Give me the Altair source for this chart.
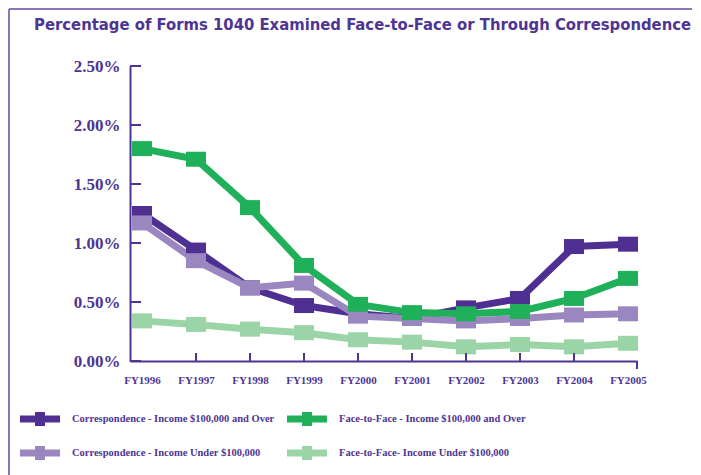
import altair as alt
import pandas as pd

years = [1996, 1997, 1998, 1999, 2000, 2001, 2002, 2003, 2004, 2005]
series_names = [
    "Correspondence - Income $100,000 and Over",
    "Correspondence - Income Under $100,000",
    "Face-to-Face - Income $100,000 and Over",
    "Face-to-Face- Income Under $100,000",
]
corr_over = [1.25, 0.94, 0.62, 0.47, 0.40, 0.36, 0.45, 0.53, 0.97, 0.99]
corr_under = [1.17, 0.85, 0.62, 0.66, 0.38, 0.36, 0.34, 0.36, 0.39, 0.40]
f2f_over = [1.80, 1.71, 1.30, 0.81, 0.48, 0.41, 0.40, 0.42, 0.53, 0.70]
f2f_under = [0.34, 0.31, 0.27, 0.24, 0.18, 0.16, 0.12, 0.14, 0.12, 0.15]
colors = ["#4F2F92", "#9A87C0", "#21B05A", "#9BD4A7"]
y_ticks = [0, 0.5, 1.0, 1.5, 2.0, 2.5]
x_ticks = [1997, 1998, 1999, 2000, 2001, 2002, 2003, 2004]

TEXT = "#4E3593"
W, H = 507, 295

rows = []
for name, vals in zip(series_names, [corr_over, corr_under, f2f_over, f2f_under]):
    for yr, v in zip(years, vals):
        rows.append({"year": yr, "value": v, "series": name})
df = pd.DataFrame(rows)

xscale = alt.Scale(domain=[1995.778, 2005.167], nice=False, zero=False)
yscale = alt.Scale(domain=[0, 2.5], nice=False)
cscale = alt.Scale(domain=series_names, range=colors)

rect_path = "M-1,-0.75L1,-0.75L1,0.75L-1,0.75Z"
legend_path = "M-2,-0.35L2,-0.35L2,0.35L-2,0.35Z M-0.5,-0.7L0.5,-0.7L0.5,0.7L-0.5,0.7Z"

legend = alt.Legend(title=None, orient="none", legendX=-100, legendY=343,
                    columns=2, symbolType=legend_path, symbolSize=400,
                    symbolStrokeWidth=0, labelOffset=22, columnPadding=12,
                    rowPadding=17, padding=0,
                    labelFont="Liberation Serif", labelFontWeight="bold",
                    labelFontSize=10.5, labelColor=TEXT, labelLimit=400)

base = alt.Chart(df)

lines = base.mark_line(strokeWidth=7, strokeJoin="miter").encode(
    x=alt.X("year:Q", scale=xscale,
            axis=alt.Axis(values=years, labelExpr="'FY' + datum.value", title=None,
                          tickSize=0, labelPadding=13, domainColor=TEXT, domainWidth=2,
                          labelColor=TEXT, labelFont="Liberation Serif", labelFontWeight="bold",
                          labelFontSize=11, grid=False)),
    y=alt.Y("value:Q", scale=yscale,
            axis=alt.Axis(values=y_ticks, labelExpr="format(datum.value, '.2f') + '%'", title=None,
                          tickSize=0, labelPadding=10, domainColor=TEXT, domainWidth=2,
                          labelColor=TEXT, labelFont="Liberation Serif", labelFontWeight="bold",
                          labelFontSize=17, grid=False)),
    color=alt.Color("series:N", scale=cscale, sort=series_names, legend=legend),
    order=alt.Order("year:Q"),
)

points = base.mark_point(shape=rect_path, filled=True, size=400, opacity=1).encode(
    x=alt.X("year:Q", scale=xscale),
    y=alt.Y("value:Q", scale=yscale),
    color=alt.Color("series:N", scale=cscale, sort=series_names, legend=legend),
)

ytick_df = pd.DataFrame({"v": y_ticks})
yticks = alt.Chart(ytick_df).mark_rule(color=TEXT, strokeWidth=2).encode(
    y=alt.Y("v:Q", scale=yscale), x=alt.value(0), x2=alt.value(11))

xtick_df = pd.DataFrame({"yr": x_ticks})
xticks = alt.Chart(xtick_df).mark_rule(color=TEXT, strokeWidth=2).encode(
    x=alt.X("yr:Q", scale=xscale), y=alt.value(H), y2=alt.value(H - 8))

endtick = alt.Chart(ytick_df).mark_rule(color=TEXT, strokeWidth=2).encode(
    x=alt.value(W), y=alt.value(H), y2=alt.value(H + 8))

frame_left = alt.Chart(ytick_df).mark_rule(color="#8B76B8", strokeWidth=1.5).encode(
    x=alt.value(-121), y=alt.value(-57), y2=alt.value(410))
frame_top = alt.Chart(ytick_df).mark_rule(color="#8B76B8", strokeWidth=1.5).encode(
    x=alt.value(-121), x2=alt.value(562), y=alt.value(-57))

chart = alt.layer(frame_left, frame_top, lines, points, yticks, xticks, endtick).properties(
    width=W, height=H, padding=0,
    title=alt.TitleParams(
        "Percentage of Forms 1040 Examined Face-to-Face or Through Correspondence",
        font="DejaVu Sans Condensed", fontSize=16.5, fontWeight="bold", color=TEXT,
        anchor="start", frame="group", dx=-96, offset=-25),
).configure_view(stroke=None)

chart.save("out.html", embed_options={"renderer": "svg", "actions": False})
